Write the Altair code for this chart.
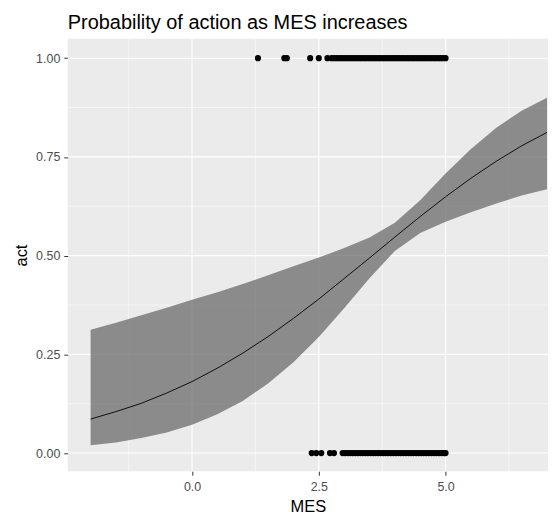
import altair as alt
import pandas as pd

# ---- data ----
act1_mes = [1.30, 1.82, 1.87, 2.33, 2.50, 2.67, 2.75, 2.80, 2.85, 2.90, 2.95, 3.00,
            3.05, 3.10, 3.15, 3.20, 3.25, 3.30, 3.35, 3.40, 3.45, 3.50, 3.55, 3.60,
            3.65, 3.70, 3.75, 3.80, 3.85, 3.90, 3.95, 4.00, 4.05, 4.10, 4.15, 4.20,
            4.25, 4.30, 4.35, 4.40, 4.45, 4.50, 4.55, 4.60, 4.65, 4.70, 4.75, 4.80,
            4.85, 4.90, 4.95, 5.00]
act0_mes = [2.36, 2.45, 2.55, 2.72, 2.80, 2.97, 3.02, 3.07, 3.12, 3.17, 3.22, 3.27,
            3.32, 3.37, 3.42, 3.47, 3.52, 3.57, 3.62, 3.67, 3.72, 3.77, 3.82, 3.87,
            3.92, 3.97, 4.02, 4.07, 4.12, 4.17, 4.22, 4.27, 4.32, 4.37, 4.42, 4.47,
            4.52, 4.57, 4.62, 4.67, 4.72, 4.77, 4.82, 4.87, 4.92, 4.97, 5.00]

fit_x = [-2.0, -1.5, -1.0, -0.5, 0.0, 0.5, 1.0, 1.5, 2.0, 2.5, 3.0, 3.5, 4.0,
         4.5, 5.0, 5.5, 6.0, 6.5, 7.0]
fit_y = [0.086, 0.105, 0.126, 0.152, 0.181, 0.215, 0.253, 0.295, 0.341, 0.390,
         0.442, 0.494, 0.547, 0.599, 0.649, 0.696, 0.739, 0.778, 0.812]
fit_lo = [0.020, 0.027, 0.038, 0.052, 0.072, 0.098, 0.132, 0.176, 0.230, 0.294,
          0.367, 0.443, 0.512, 0.557, 0.586, 0.610, 0.632, 0.652, 0.668]
fit_hi = [0.312, 0.330, 0.349, 0.368, 0.388, 0.407, 0.428, 0.450, 0.473, 0.495,
          0.519, 0.546, 0.583, 0.640, 0.708, 0.770, 0.824, 0.867, 0.900]

x_major = [0.0, 2.5, 5.0]
x_minor = [-1.25, 1.25, 3.75, 6.25]
y_major = [0.0, 0.25, 0.5, 0.75, 1.0]
y_minor = [0.125, 0.375, 0.625, 0.875]

title_text = "Probability of action as MES increases"

# ---- tables ----
pts = pd.DataFrame({
    "MES": act1_mes + act0_mes,
    "act": [1.0] * len(act1_mes) + [0.0] * len(act0_mes),
})
fit = pd.DataFrame({"MES": fit_x, "fit": fit_y, "lo": fit_lo, "hi": fit_hi})

FONT = "Liberation Sans"
xscale = alt.Scale(domain=[-2.45, 7.02], nice=False, zero=False)
yscale = alt.Scale(domain=[-0.046, 1.049], nice=False, zero=False)

xaxis = alt.Axis(values=x_major, format=".1f", grid=False, domain=False,
                 tickColor="#333333", tickSize=4, tickWidth=1,
                 labelColor="#4D4D4D", labelFontSize=12.5, labelFont=FONT,
                 labelPadding=5, title="MES", titleFont=FONT, titleFontSize=16.5,
                 titleFontWeight="normal", titleColor="black", titlePadding=6)
yaxis = alt.Axis(values=y_major, format=".2f", grid=False, domain=False,
                 tickColor="#333333", tickSize=4, tickWidth=1,
                 labelColor="#4D4D4D", labelFontSize=12.5, labelFont=FONT,
                 labelPadding=4, title="act", titleFont=FONT, titleFontSize=16.5,
                 titleFontWeight="normal", titleColor="black", titlePadding=6)

X = lambda f: alt.X(f, type="quantitative", scale=xscale, axis=xaxis)
Y = lambda f: alt.Y(f, type="quantitative", scale=yscale, axis=yaxis)

vmaj = alt.Chart(pd.DataFrame({"v": x_major})).mark_rule(
    color="white", strokeWidth=1.1).encode(x=X("v"))
vmin = alt.Chart(pd.DataFrame({"v": x_minor})).mark_rule(
    color="white", strokeWidth=0.55).encode(x=X("v"))
hmaj = alt.Chart(pd.DataFrame({"v": y_major})).mark_rule(
    color="white", strokeWidth=1.1).encode(y=Y("v"))
hmin = alt.Chart(pd.DataFrame({"v": y_minor})).mark_rule(
    color="white", strokeWidth=0.55).encode(y=Y("v"))

band = alt.Chart(fit).mark_area(color="#6B6B6B", opacity=0.75).encode(
    x=X("MES"), y=Y("lo"), y2="hi")
line = alt.Chart(fit).mark_line(color="black", strokeWidth=0.9).encode(
    x=X("MES"), y=Y("fit"))
dots = alt.Chart(pts).mark_circle(size=38, color="black", opacity=1).encode(
    x=X("MES"), y=Y("act"))

chart = alt.layer(vmin, vmaj, hmin, hmaj, band, line, dots).properties(
    width=482, height=434,
    padding={"left": 5, "top": 4, "right": 0, "bottom": 0},
    title=alt.TitleParams(text=title_text, anchor="start", frame="group",
                          fontSize=20, fontWeight="normal", color="black",
                          font=FONT, offset=5),
).configure_view(fill="#EBEBEB", strokeWidth=0)

chart.save("out.html", embed_options={"renderer": "svg", "actions": False})
